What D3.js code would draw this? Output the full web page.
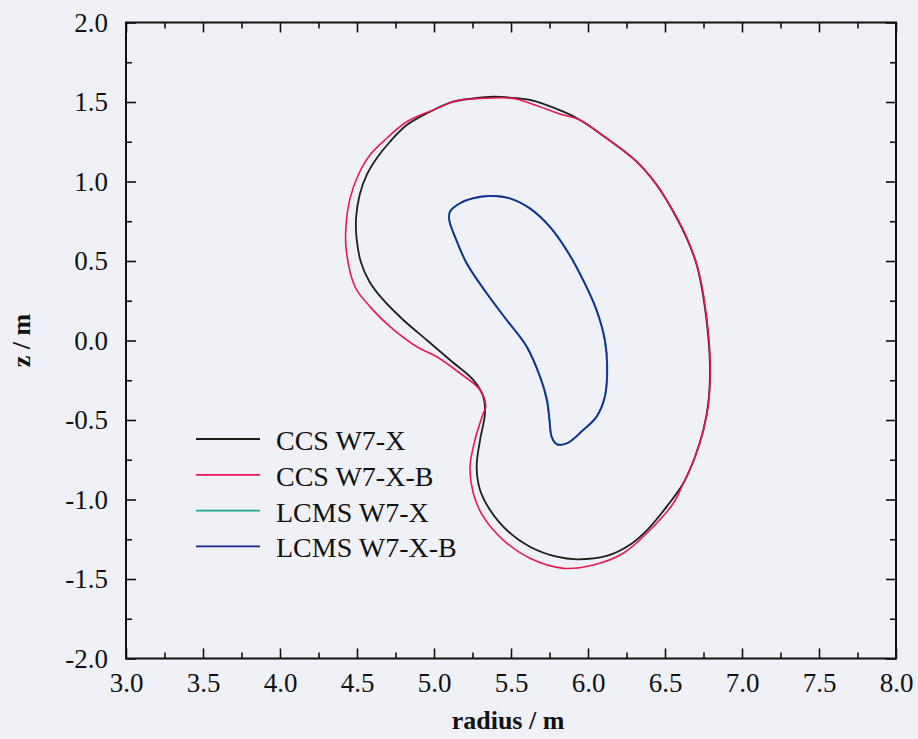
<!DOCTYPE html>
<html>
<head>
<meta charset="utf-8">
<script src="https://cdn.jsdelivr.net/npm/d3@7"></script>
<style>
  body { margin: 0; background: #eff1f7; }
  svg { display: block; }
  text { font-family: "Liberation Serif", "Times New Roman", serif; fill: #111; }
</style>
</head>
<body>
<svg id="chart"></svg>
<script>
// Poloidal cross-sections, [radius R (m), z (m)], traced clockwise from the top
const ccsW7X = [
  [5.385, 1.533], [5.494, 1.528], [5.623, 1.513], [5.840, 1.439], [5.948, 1.387],
  [6.121, 1.272], [6.316, 1.125], [6.446, 0.978], [6.554, 0.810], [6.641, 0.643],
  [6.706, 0.475], [6.749, 0.275], [6.781, 0.024], [6.792, -0.186], [6.781, -0.395],
  [6.749, -0.563], [6.695, -0.731], [6.619, -0.898], [6.511, -1.045], [6.390, -1.186],
  [6.275, -1.283], [6.121, -1.355], [5.927, -1.376], [5.797, -1.360], [5.623, -1.297],
  [5.472, -1.192], [5.364, -1.066], [5.299, -0.940], [5.277, -0.794], [5.299, -0.626],
  [5.331, -0.458], [5.320, -0.353], [5.255, -0.248], [5.104, -0.123], [4.953, 0.003],
  [4.801, 0.129], [4.671, 0.255], [4.581, 0.370], [4.525, 0.494], [4.497, 0.645],
  [4.494, 0.770], [4.517, 0.915], [4.563, 1.041], [4.628, 1.146], [4.714, 1.250],
  [4.823, 1.355], [4.974, 1.439], [5.125, 1.502], [5.255, 1.522]
];

const ccsW7XB = [
  [5.299, 1.522], [5.515, 1.523], [5.623, 1.492], [5.840, 1.418], [5.948, 1.387],
  [6.121, 1.272], [6.316, 1.125], [6.448, 0.978], [6.556, 0.810], [6.644, 0.643],
  [6.708, 0.475], [6.752, 0.275], [6.784, 0.024], [6.794, -0.186], [6.783, -0.395],
  [6.750, -0.563], [6.696, -0.731], [6.619, -0.898], [6.554, -1.024], [6.403, -1.192],
  [6.229, -1.338], [6.034, -1.412], [5.840, -1.433], [5.623, -1.370], [5.450, -1.255],
  [5.320, -1.108], [5.255, -0.961], [5.234, -0.794], [5.266, -0.626], [5.320, -0.458],
  [5.336, -0.416], [5.299, -0.311], [5.169, -0.206], [5.018, -0.102], [4.888, -0.039],
  [4.714, 0.087], [4.584, 0.213], [4.487, 0.338], [4.429, 0.580], [4.429, 0.726],
  [4.455, 0.894], [4.508, 1.041], [4.584, 1.167], [4.693, 1.272], [4.823, 1.376],
  [4.995, 1.450], [5.147, 1.508]
];

const lcmsW7X = [
  [5.104, 0.810], [5.169, 0.863], [5.255, 0.894], [5.364, 0.909], [5.494, 0.894],
  [5.623, 0.831], [5.753, 0.716], [5.862, 0.569], [5.969, 0.381], [6.056, 0.192],
  [6.110, 0.003], [6.125, -0.165], [6.110, -0.353], [6.056, -0.479], [5.969, -0.563],
  [5.862, -0.647], [5.797, -0.651], [5.764, -0.605], [5.751, -0.500], [5.735, -0.374],
  [5.690, -0.228], [5.603, -0.039], [5.472, 0.129], [5.342, 0.297], [5.212, 0.486],
  [5.136, 0.653], [5.099, 0.758]
];

const lcmsW7XB = [
  [5.104, 0.812], [5.169, 0.864], [5.255, 0.895], [5.364, 0.909], [5.494, 0.893],
  [5.623, 0.830], [5.752, 0.715], [5.861, 0.568], [5.968, 0.380], [6.055, 0.191],
  [6.109, 0.003], [6.124, -0.166], [6.109, -0.354], [6.055, -0.480], [5.968, -0.564],
  [5.861, -0.648], [5.797, -0.652], [5.764, -0.606], [5.749, -0.500], [5.732, -0.374],
  [5.688, -0.228], [5.602, -0.039], [5.472, 0.129], [5.342, 0.297], [5.212, 0.486],
  [5.136, 0.653], [5.099, 0.758]
];

const seriesNames = ['CCS W7-X', 'CCS W7-X-B', 'LCMS W7-X', 'LCMS W7-X-B'];
const seriesColors = ['#1e1e1e', '#e8194f', '#1fa596', '#1b2890'];
const seriesWidths = [1.8, 1.6, 2.0, 1.7];
const series = [ccsW7X, ccsW7XB, lcmsW7X, lcmsW7XB];

const xMajor = [3.0, 3.5, 4.0, 4.5, 5.0, 5.5, 6.0, 6.5, 7.0, 7.5, 8.0];
const yMajor = [-2.0, -1.5, -1.0, -0.5, 0.0, 0.5, 1.0, 1.5, 2.0];
const xMinor = [3.25, 3.75, 4.25, 4.75, 5.25, 5.75, 6.25, 6.75, 7.25, 7.75];
const yMinor = [-1.75, -1.25, -0.75, -0.25, 0.25, 0.75, 1.25, 1.75];

const svgWidth = 918;
const svgHeight = 739;
const margin = { top: 22.5, right: 22, bottom: 80.5, left: 126 };
const width = svgWidth - margin.left - margin.right;
const height = svgHeight - margin.top - margin.bottom;

const svg = d3.select('#chart')
  .attr('width', svgWidth)
  .attr('height', svgHeight);

const g = svg.append('g')
  .attr('transform', `translate(${margin.left}, ${margin.top})`);

const x = d3.scaleLinear().domain([3, 8]).range([0, width]);
const y = d3.scaleLinear().domain([-2, 2]).range([height, 0]);

// ticks point inwards on all four sides; labels use a plain hyphen for minus
const none = () => '';
const fmt = d => d.toFixed(1);

const axes = [
  [d3.axisBottom(x), xMajor, 10, fmt, 14, `translate(0, ${height})`],
  [d3.axisBottom(x), xMinor, 6, none, 14, `translate(0, ${height})`],
  [d3.axisTop(x), xMajor, 10, none, 0, 'translate(0, 0)'],
  [d3.axisTop(x), xMinor, 6, none, 0, 'translate(0, 0)'],
  [d3.axisLeft(y), yMajor, 10, fmt, 18, 'translate(0, 0)'],
  [d3.axisLeft(y), yMinor, 6, none, 18, 'translate(0, 0)'],
  [d3.axisRight(y), yMajor, 10, none, 0, `translate(${width}, 0)`],
  [d3.axisRight(y), yMinor, 6, none, 0, `translate(${width}, 0)`]
];

axes.forEach(([axis, values, size, f, pad, tr]) => {
  const a = g.append('g')
    .attr('transform', tr)
    .call(axis.tickValues(values).tickSize(-size).tickSizeOuter(0)
      .tickFormat(f).tickPadding(pad));
  a.select('.domain').remove();
  a.selectAll('line').attr('stroke', '#111').attr('stroke-width', 1.6);
  a.selectAll('text').attr('font-size', 27).attr('fill', '#111')
    .style('font-family', '"Liberation Serif", "Times New Roman", serif');
});

// frame
g.append('rect')
  .attr('width', width)
  .attr('height', height)
  .attr('fill', 'none')
  .attr('stroke', '#111')
  .attr('stroke-width', 2);

// closed surfaces
const line = d3.line()
  .x(d => x(d[0]))
  .y(d => y(d[1]))
  .curve(d3.curveCatmullRomClosed.alpha(0.5));

series.forEach((pts, i) => {
  g.append('path')
    .datum(pts)
    .attr('fill', 'none')
    .attr('stroke', seriesColors[i])
    .attr('stroke-width', seriesWidths[i])
    .attr('stroke-linejoin', 'round')
    .attr('d', line);
});

// legend
const legend = g.append('g')
  .attr('transform', `translate(${196 - margin.left}, ${439 - margin.top})`);

seriesNames.forEach((name, i) => {
  const row = legend.append('g').attr('transform', `translate(0, ${i * 35.8})`);
  row.append('line')
    .attr('x1', 0).attr('x2', 64)
    .attr('stroke', seriesColors[i])
    .attr('stroke-width', 1.8);
  row.append('text')
    .attr('x', 80)
    .attr('y', 11)
    .attr('font-size', 28)
    .text(name);
});

// axis titles
svg.append('text')
  .attr('x', margin.left + x(5.5) - 3)
  .attr('y', 729)
  .attr('text-anchor', 'middle')
  .attr('font-size', 26)
  .attr('font-weight', 'bold')
  .text('radius / m');

svg.append('text')
  .attr('transform', `translate(30, ${margin.top + y(0)}) rotate(-90)`)
  .attr('text-anchor', 'middle')
  .attr('font-size', 26)
  .attr('font-weight', 'bold')
  .text('z / m');
</script>
</body>
</html>
